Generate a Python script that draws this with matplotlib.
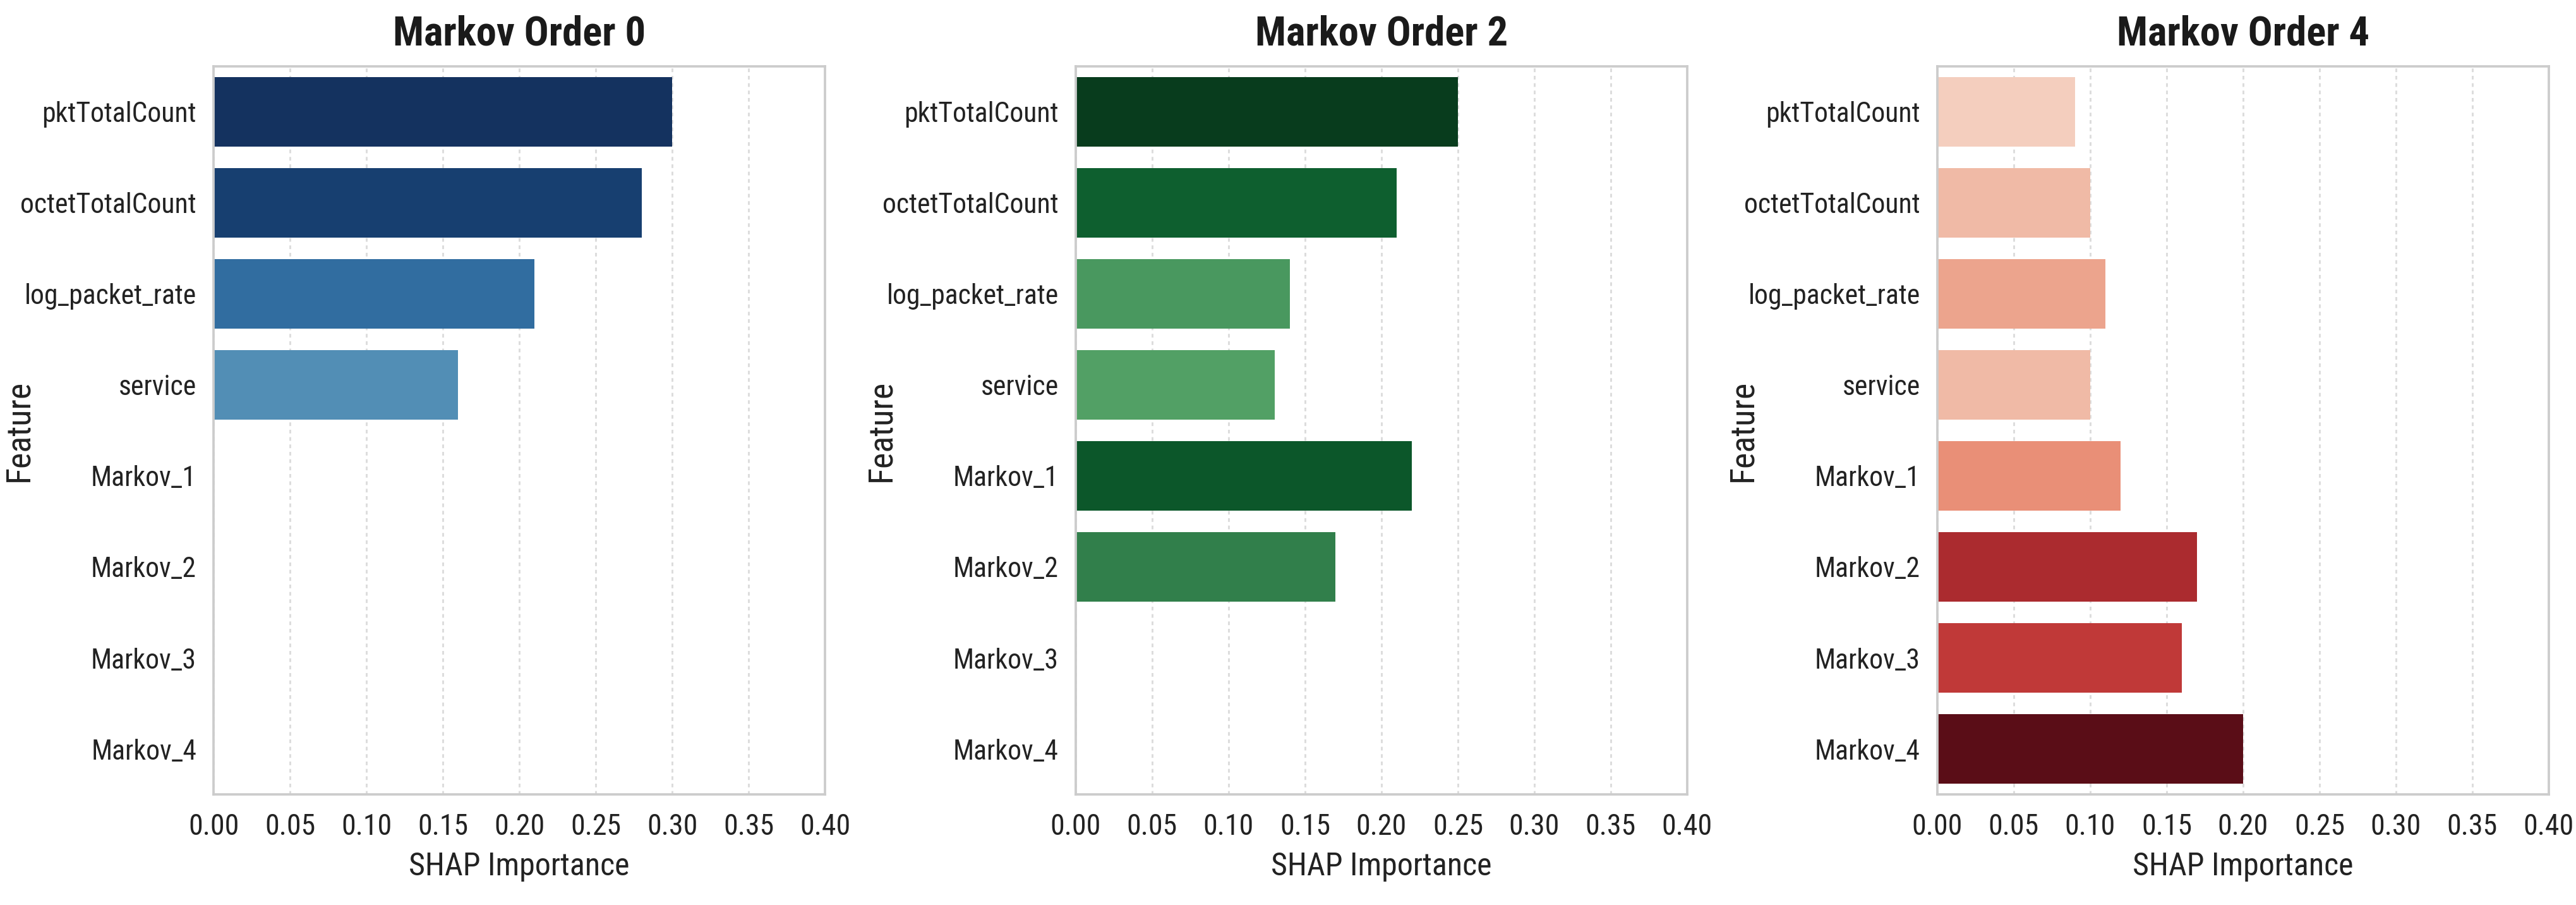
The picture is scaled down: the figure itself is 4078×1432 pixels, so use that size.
import colorsys
import matplotlib
matplotlib.use("Agg")
import matplotlib.pyplot as plt
from matplotlib import font_manager
import numpy as np

features = ["pktTotalCount", "octetTotalCount", "log_packet_rate", "service",
            "Markov_1", "Markov_2", "Markov_3", "Markov_4"]
titles = ["Markov Order 0", "Markov Order 2", "Markov Order 4"]
shap_order0 = [0.30, 0.28, 0.21, 0.16, 0.0, 0.0, 0.0, 0.0]
shap_order2 = [0.25, 0.21, 0.14, 0.13, 0.22, 0.17, 0.0, 0.0]
shap_order4 = [0.09, 0.10, 0.11, 0.10, 0.12, 0.17, 0.16, 0.20]
x_ticks = [0.00, 0.05, 0.10, 0.15, 0.20, 0.25, 0.30, 0.35, 0.40]
cmaps = ["Blues", "Greens", "Reds"]

# pick a condensed face if one is installed
installed = {f.name for f in font_manager.fontManager.ttflist}
family = "Liberation Sans"
for cand in ["Liberation Sans Narrow", "Roboto Condensed", "Open Sans Condensed",
             "Arial Narrow"]:
    if cand in installed:
        family = cand
        break
plt.rcParams["font.family"] = [family, "Liberation Sans", "DejaVu Sans"]


def desaturate(c, prop=0.75):
    h, l, s = colorsys.rgb_to_hls(*c[:3])
    return colorsys.hls_to_rgb(h, l, s * prop)


def bar_colors(vals, cmap_name):
    v = np.asarray(vals)
    norm = (v - v.min()) / (v.max() - v.min())
    cmap = plt.get_cmap(cmap_name)
    return [desaturate(cmap(0.2 + 0.8 * n)) for n in norm]


fig = plt.figure(figsize=(4079 / 300, 1432 / 300), dpi=300)
lefts = [0.0829, 0.4175, 0.7519]
ax_w, ax_b, ax_h = 0.2373, 0.1222, 0.8045

for i, vals in enumerate([shap_order0, shap_order2, shap_order4]):
    ax = fig.add_axes([lefts[i], ax_b, ax_w, ax_h])
    y = np.arange(len(features))
    ax.barh(y, vals, height=0.76, color=bar_colors(vals, cmaps[i]), zorder=2)
    ax.set_ylim(len(features) - 0.5, -0.5)
    ax.set_xlim(0, 0.4)
    ax.set_xticks(x_ticks)
    ax.set_xticklabels([f"{t:.2f}" for t in x_ticks])
    ax.set_yticks(y)
    ax.set_yticklabels(features)
    ax.tick_params(axis="y", length=0, pad=6.5, labelsize=10.5, colors="#222222")
    ax.tick_params(axis="x", length=0, pad=7, labelsize=11, colors="#222222")
    ax.grid(axis="x", color="#dcdcdc", linestyle=(0, (2, 2)), linewidth=0.7, zorder=0)
    ax.set_axisbelow(True)
    for sp in ax.spines.values():
        sp.set_color("#cccccc")
        sp.set_linewidth(0.9)
    ax.set_title(titles[i], fontsize=15.5, fontweight="bold", pad=8, color="#1a1a1a")
    ax.set_xlabel("SHAP Importance", fontsize=12, color="#222222")
    ax.set_ylabel("Feature", fontsize=13, color="#222222")
    ax.yaxis.set_label_coords(-0.292, 0.5)

fig.savefig("out.png", dpi=300, facecolor="white")
